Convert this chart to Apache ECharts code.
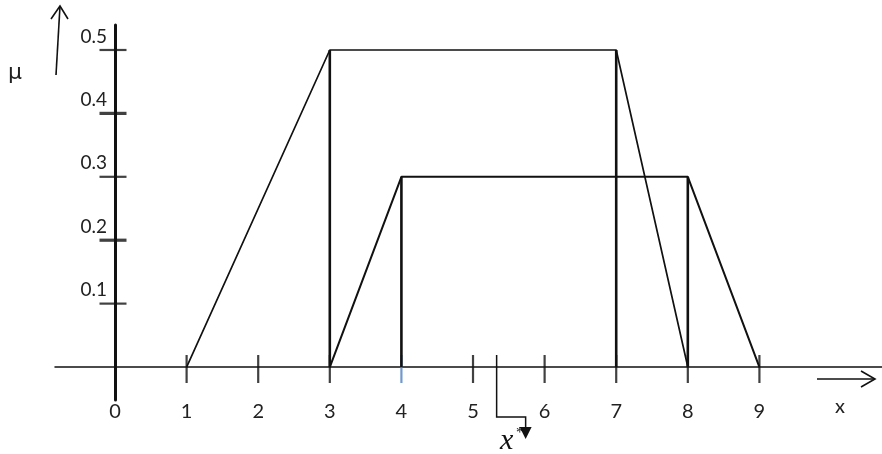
<!DOCTYPE html>
<html>
<head>
<meta charset="utf-8">
<script src="https://cdn.jsdelivr.net/npm/echarts@6/dist/echarts.min.js"></script>
<style>
  html, body { margin: 0; padding: 0; background: #fff; }
  #chart { width: 882px; height: 454px; }
</style>
</head>
<body>
<div id="chart"></div>
<script>
// Trapezoid A (upper) and trapezoid B (lower): x positions and membership values
const trapAX = [1, 3, 7, 8];
const trapAMu = [0, 0.5, 0.5, 0];
const trapBX = [3, 4, 8, 9];
const trapBMu = [0, 0.3, 0.3, 0];

// Vertical cut lines: x position and height
const cutX = [3, 7, 4, 8];
const cutMu = [0.5, 0.5, 0.3, 0.3];

// Axis ticks and labels
const xTicks = [1, 2, 3, 4, 5, 6, 7, 8, 9];
const xLabelValues = [0, 1, 2, 3, 4, 5, 6, 7, 8, 9];
const yTicks = [0.1, 0.2, 0.3, 0.4, 0.5];

// Defuzzified value marked x*
const xStar = 5.33;

const ink = '#111';
const labelFont = 'Lato';

const chart = echarts.init(document.getElementById('chart'));

const lineSeries = (data, width) => ({
    type: 'line',
    data: data,
    symbol: 'none',
    silent: true,
    lineStyle: { color: ink, width: width },
    z: 3
});

const series = [
    lineSeries(trapAX.map((x, i) => [x, trapAMu[i]]), 1.7),
    lineSeries(trapBX.map((x, i) => [x, trapBMu[i]]), 2),
    ...cutX.map((x, i) => lineSeries([[x, cutMu[i]], [x, 0]], 2.6)),
    {
        // ticks crossing the x axis
        type: 'scatter',
        silent: true,
        symbol: 'rect',
        symbolSize: [2.2, 28],
        symbolOffset: [0, 2],
        data: xTicks.map((v) => ({
            value: [v, 0],
            itemStyle: { color: v === 4 ? '#4d7fc4' : ink }
        })),
        z: 2
    },
    {
        // ticks crossing the y axis
        type: 'scatter',
        silent: true,
        symbol: 'rect',
        symbolOffset: [-2, 0],
        data: yTicks.map((v, i) => ({
            value: [0, v],
            symbolSize: [27, i % 2 ? 3.2 : 2.2]
        })),
        itemStyle: { color: ink },
        z: 2
    },
    {
        // x* pointer below the axis
        type: 'custom',
        silent: true,
        data: [[xStar, 0]],
        renderItem: (params, api) => {
            const p = api.coord([api.value(0), api.value(1)]);
            const x0 = p[0];
            const y0 = p[1];
            return {
                type: 'group',
                children: [
                    {
                        type: 'polyline',
                        shape: { points: [[x0, y0 - 12], [x0, y0 + 50], [x0 + 29, y0 + 50], [x0 + 29, y0 + 61]] },
                        style: { stroke: ink, lineWidth: 1.5, fill: 'none' }
                    },
                    {
                        type: 'polygon',
                        shape: { points: [[x0 + 23, y0 + 60], [x0 + 35, y0 + 60], [x0 + 29, y0 + 72]] },
                        style: { fill: ink }
                    },
                    {
                        type: 'text',
                        style: {
                            text: 'x', x: x0 + 10, y: y0 + 74,
                            align: 'center', verticalAlign: 'middle',
                            font: 'italic 30px "Liberation Serif"', fill: ink
                        }
                    },
                    {
                        type: 'text',
                        style: {
                            text: '*', x: x0 + 23, y: y0 + 66,
                            align: 'center', verticalAlign: 'middle',
                            font: '15px "Liberation Serif"', fill: ink
                        }
                    }
                ]
            };
        },
        z: 4
    }
];

const option = {
    animation: false,
    backgroundColor: '#fff',
    grid: { left: 55, right: 0, top: 25, bottom: 54 },
    xAxis: {
        type: 'value',
        min: -0.838,
        max: 10.712,
        splitLine: { show: false },
        axisTick: { show: false },
        axisLine: { onZero: true, lineStyle: { color: ink, width: 1.5 } },
        axisLabel: {
            customValues: xLabelValues,
            formatter: (v) => String(v),
            margin: 2,
            color: '#222',
            fontFamily: labelFont,
            fontSize: 20
        }
    },
    yAxis: {
        type: 'value',
        min: -0.052,
        max: 0.5394,
        splitLine: { show: false },
        axisTick: { show: false },
        axisLine: { onZero: true, lineStyle: { color: ink, width: 3 } },
        axisLabel: {
            customValues: yTicks,
            formatter: (v) => v.toFixed(1),
            margin: -52,
            verticalAlign: 'bottom',
            padding: [0, 0, 4, 0],
            color: '#222',
            fontFamily: labelFont,
            fontSize: 19
        }
    },
    graphic: [
        // mu label and its up arrow
        { type: 'text', left: 8, top: 62, style: { text: 'μ', font: '22px "DejaVu Sans"', fill: '#222' } },
        { type: 'line', shape: { x1: 56, y1: 75, x2: 60, y2: 6 }, style: { stroke: ink, lineWidth: 1.6 } },
        { type: 'polyline', shape: { points: [[51, 19], [60, 6], [68, 19]] }, style: { stroke: ink, lineWidth: 1.6, fill: 'none' } },
        // x label and its right arrow
        { type: 'text', left: 835, top: 397, style: { text: 'x', font: '20px Lato', fill: '#222' } },
        { type: 'line', shape: { x1: 817, y1: 379, x2: 875, y2: 379 }, style: { stroke: ink, lineWidth: 1.6 } },
        { type: 'polyline', shape: { points: [[861, 371], [875, 379], [861, 387]] }, style: { stroke: ink, lineWidth: 1.6, fill: 'none' } }
    ],
    series: series
};

chart.setOption(option);
window.addEventListener('resize', () => chart.resize());
</script>
</body>
</html>
